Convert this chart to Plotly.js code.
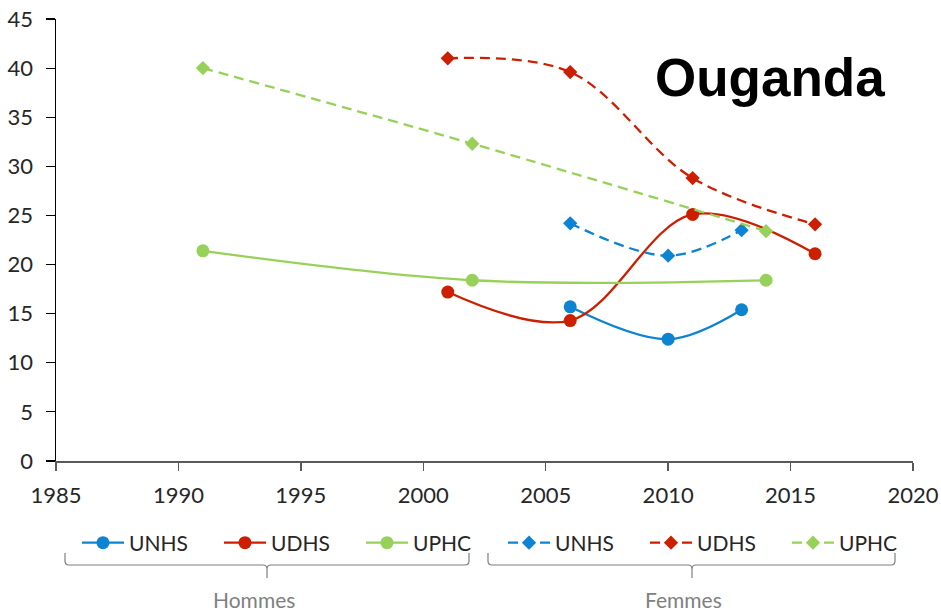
<!DOCTYPE html>
<html>
<head>
<meta charset="utf-8">
<script src="https://cdn.plot.ly/plotly-3.0.1.min.js"></script>
<style>html,body{margin:0;padding:0;background:#fff;}#chart{width:941px;height:613px;}</style>
</head>
<body>
<div id="chart"></div>
<script>
// ---- Data ----
const yearsUNHS = [2006, 2010, 2013];
const yearsUDHS = [2001, 2006, 2011, 2016];
const yearsUPHC = [1991, 2002, 2014];

const hommesUNHS = [15.7, 12.4, 15.4];
const hommesUDHS = [17.2, 14.3, 25.1, 21.1];
const hommesUPHC = [21.4, 18.4, 18.4];

const femmesUNHS = [24.2, 20.9, 23.5];
const femmesUDHS = [41.0, 39.6, 28.8, 24.1];
const femmesUPHC = [40.0, 32.3, 23.4];

const seriesNames = ["UNHS", "UDHS", "UPHC"];
const groupLabels = ["Hommes", "Femmes"];
const chartTitle = "Ouganda";
const xTickVals = [1985, 1990, 1995, 2000, 2005, 2010, 2015, 2020];
const yTickVals = [0, 5, 10, 15, 20, 25, 30, 35, 40, 45];

// ---- Layout helpers ----
const W = 941, H = 613, ML = 56, MR = 28, MT = 19, MB = 152;
const PW = W - ML - MR, PH = H - MT - MB;
const px = x => (x - ML) / PW;
const py = y => (H - MB - y) / PH;

const colors = {UNHS: "#0d84d2", UDHS: "#cc1f00", UPHC: "#98d15a"};
const font = "Lato, 'Open Sans', sans-serif";

function mk(x, y, name, dashed) {
  return {
    x: x, y: y, name: name, type: "scatter", mode: "lines+markers",
    line: {color: colors[name], width: 2.3, shape: "spline", smoothing: 1, dash: dashed ? "10px,6px" : "solid"},
    marker: {color: colors[name], size: dashed ? 11 : 13, symbol: dashed ? "diamond" : "circle"},
    hoverinfo: "x+y+name"
  };
}

const traces = [
  mk(yearsUNHS, hommesUNHS, seriesNames[0], false),
  mk(yearsUDHS, hommesUDHS, seriesNames[1], false),
  mk(yearsUPHC, hommesUPHC, seriesNames[2], false),
  mk(yearsUNHS, femmesUNHS, seriesNames[0], true),
  mk(yearsUDHS, femmesUDHS, seriesNames[1], true),
  mk(yearsUPHC, femmesUPHC, seriesNames[2], true)
];

function bracketPath(x0, x1, xc, yTop, yLine, yTip) {
  const r = 4;
  const P = (x, y) => px(x) + "," + py(y);
  return "M" + P(x0, yTop) + " L" + P(x0, yLine - r) + " Q" + P(x0, yLine) + " " + P(x0 + r, yLine) +
    " L" + P(xc - r, yLine) + " Q" + P(xc, yLine) + " " + P(xc, yLine + r) + " L" + P(xc, yTip) +
    " M" + P(xc, yLine + r) + " Q" + P(xc, yLine) + " " + P(xc + r, yLine) +
    " L" + P(x1 - r, yLine) + " Q" + P(x1, yLine) + " " + P(x1, yLine - r) + " L" + P(x1, yTop);
}

const layout = {
  width: W, height: H,
  margin: {l: ML, r: MR, t: MT, b: MB, pad: 0},
  paper_bgcolor: "#fff", plot_bgcolor: "#fff",
  font: {family: font, size: 21, color: "#262626"},
  showlegend: true,
  legend: {
    orientation: "h", xref: "container", yref: "container",
    x: 77 / W, xanchor: "left", y: (H - 543) / H, yanchor: "middle",
    font: {family: font, size: 21, color: "#262626"},
    itemwidth: 42,
    entrywidth: 85, entrywidthmode: "pixels", tracegroupgap: 0,
    bgcolor: "rgba(0,0,0,0)"
  },
  xaxis: {
    range: [1985, 2020], tickvals: xTickVals, ticktext: xTickVals.map(String),
    showgrid: false, zeroline: false, showline: true, linecolor: "#595959", linewidth: 2,
    ticks: "outside", ticklen: 8, tickcolor: "#595959", tickwidth: 1.5,
    ticklabelstandoff: 6,
    tickfont: {family: font, size: 22, color: "#262626"}, fixedrange: true
  },
  yaxis: {
    range: [0, 45], tickvals: yTickVals, ticktext: yTickVals.map(String),
    showgrid: false, zeroline: false, showline: true, linecolor: "#000", linewidth: 1.5,
    ticks: "outside", ticklen: 9, tickcolor: "#000", tickwidth: 1.2,
    ticklabelstandoff: 8,
    tickfont: {family: font, size: 22, color: "#262626"}, fixedrange: true
  },
  shapes: [
    {type: "path", xref: "paper", yref: "paper", path: bracketPath(65, 469, 267, 553, 565, 578), line: {color: "#7f7f7f", width: 1.2}},
    {type: "path", xref: "paper", yref: "paper", path: bracketPath(488, 895, 692, 553, 565, 578), line: {color: "#7f7f7f", width: 1.2}}
  ],
  annotations: [
    {text: chartTitle, xref: "paper", yref: "paper", x: px(770), y: py(77), xanchor: "center", yanchor: "middle",
     showarrow: false, font: {family: "'Liberation Sans', Arial, sans-serif", size: 53, color: "#000", weight: "bold"}},
    {text: groupLabels[0], xref: "paper", yref: "paper", x: px(254), y: py(599), xanchor: "center", yanchor: "middle",
     showarrow: false, font: {family: font, size: 21, color: "#808080"}},
    {text: groupLabels[1], xref: "paper", yref: "paper", x: px(683), y: py(599), xanchor: "center", yanchor: "middle",
     showarrow: false, font: {family: font, size: 21, color: "#808080"}}
  ]
};

Plotly.newPlot("chart", traces, layout, {displayModeBar: false, staticPlot: true});
</script>
</body>
</html>
